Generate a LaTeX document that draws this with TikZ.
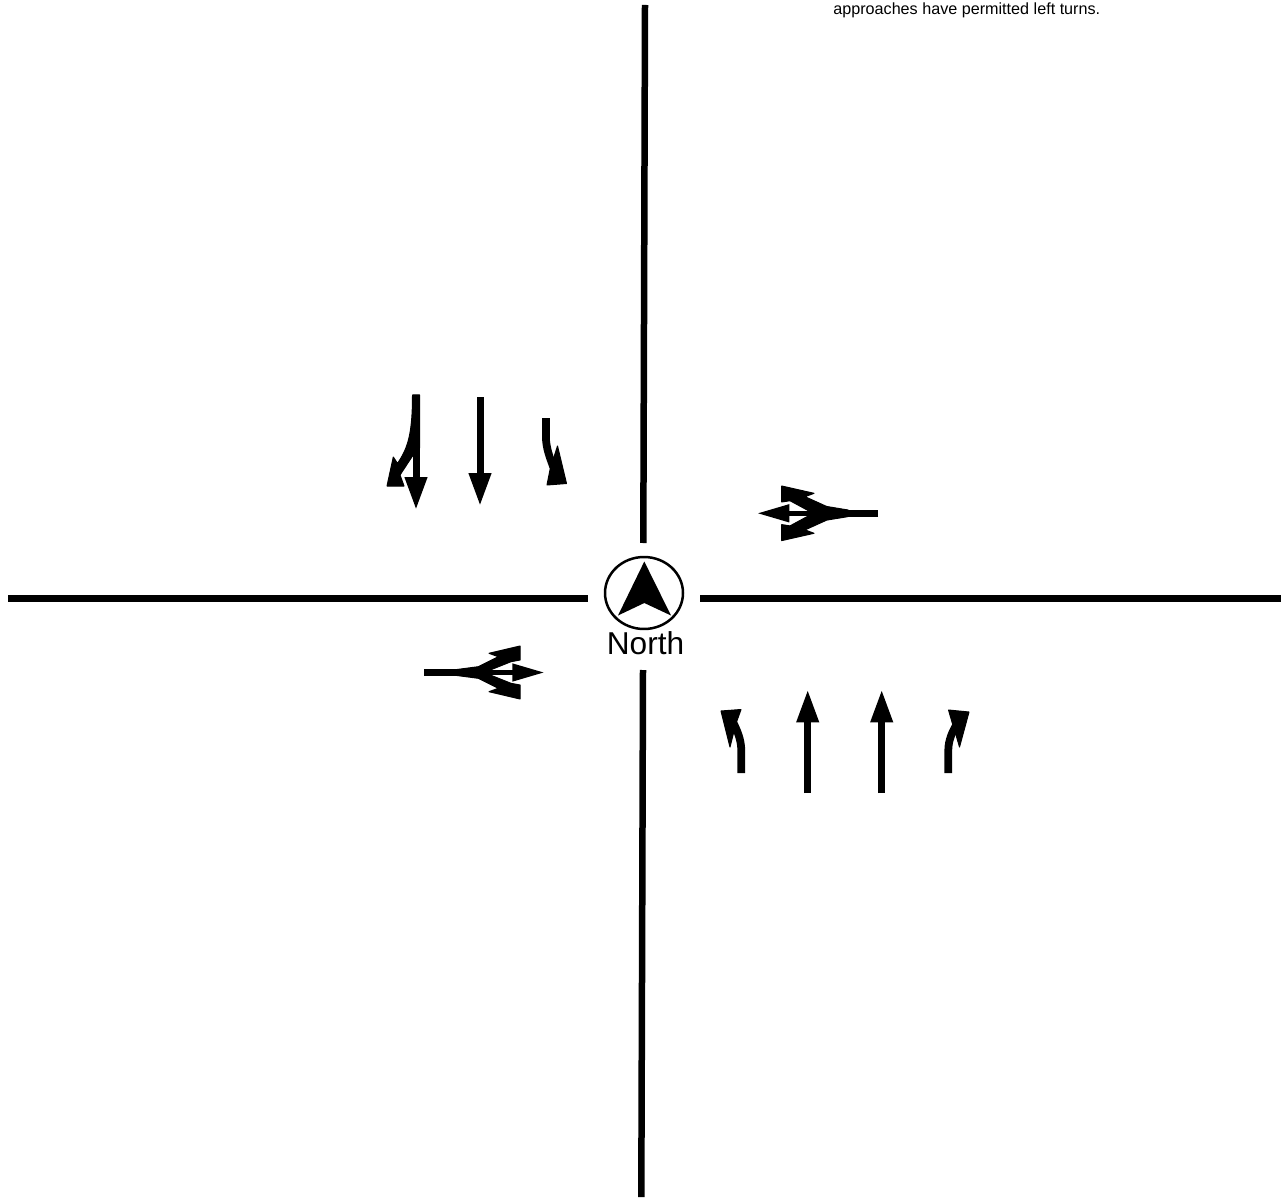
\documentclass[tikz,border=0pt]{standalone}
\usepackage{fontspec}
\setmainfont{Liberation Sans}
\usepackage{tikz}
\usetikzlibrary{shapes.geometric, arrows.meta, positioning, calc}
\tikzset{
    road/.style={line width=0.13cm, black},
    lane/.style={line width=0.14cm, black},
    lane_turn/.style={line width=0.155cm, black},
    lane_through/.style={lane, -{Triangle[length=0.66cm, width=0.42cm]}},
    lane_straight/.style={line width=0.09cm, black, -{Triangle[length=0.64cm, width=0.34cm]}},
    lane_head/.style={fill=black, draw=black, line width=0.02cm, line join=round},
    compass_ring/.style={ellipse, draw, line width=0.05cm, minimum width=1.56cm, minimum height=1.44cm, inner sep=0pt},
    compass_text/.style={font=\fontsize{18}{20}\selectfont, inner sep=0pt},
    note_text/.style={font=\fontsize{9.2}{11}\selectfont, inner sep=0pt, anchor=base west}
}
\begin{document}
\begin{tikzpicture}[x=0.02cm, y=-0.02cm]
	\useasboundingbox (0,0) rectangle (1281,1199);

	% Note
	\node (note) [note_text] at (833,15) {approaches have permitted left turns.};

	% Compass
	\node (compass) [compass_ring] at (644,593) {};
	\node (north) [compass_text, anchor=base] at (645.5,654) {North};
	\coordinate (needle_tip) at (644.3,561.5);
	\coordinate (needle_left) at (618,615.5);
	\coordinate (needle_notch) at (644.3,603);
	\coordinate (needle_right) at (671,615.5);
	\fill (needle_tip) -- (needle_left) -- (needle_notch) -- (needle_right) -- cycle;

	% Roads
	\coordinate (n_top) at (645,5);
	\coordinate (n_end) at (643.3,543);
	\coordinate (s_end) at (643,670);
	\coordinate (s_bot) at (641.3,1197);
	\coordinate (w_top) at (8,598.7);
	\coordinate (w_end) at (588,598.7);
	\coordinate (e_end) at (700,598.7);
	\coordinate (e_top) at (1281,598.7);
	\draw [road] (n_top) -- (n_end);
	\draw [road] (s_end) -- (s_bot);
	\draw [road] (w_top) -- (w_end);
	\draw [road] (e_end) -- (e_top);

	% Top lanes
	\draw [lane_through] (416,395) -- (416,510);
	\filldraw [lane_head] (387,486) -- (393.3,457) -- (397.5,463.5) .. controls (407,449) and (412.5,437) .. (412.5,395) -- (419.5,395) -- (419.5,448) -- (412,456.7) -- (400,475) -- (404,486) -- cycle;
	\draw [lane_through] (480,397) -- (480,506);
	\draw [lane_turn] (546,418) -- (546,440) .. controls (547,452) and (551,460) .. (555,472);
	\filldraw [lane_head] (547,485) -- (550,470) -- (557.5,446) -- (566.5,483.5) -- cycle;

	% Bottom lanes
	\draw [lane_turn] (741.3,773) -- (741.3,750) .. controls (741,740) and (738,732) .. (733,722);
	\filldraw [lane_head] (721,711) -- (741,709.5) -- (736.5,722) -- (733,735) -- (730,747) -- cycle;
	\draw [lane_through] (807.7,793) -- (807.7,689.5);
	\draw [lane_through] (881.7,793) -- (881.7,689.5);
	\draw [lane_turn] (948.3,773) -- (948.3,750) .. controls (948.5,740) and (952,732) .. (958,722);
	\filldraw [lane_head] (948.5,710) -- (969,712) -- (959.5,747) -- (956,735) -- (952,722) -- cycle;

	% Right lanes
	\draw [lane, line cap=butt] (878,513.3) -- (840,513.3);
	\draw [lane_straight] (850,513.3) -- (757.3,513.3);
	\filldraw [lane_head] (781.7,486) -- (814,493.3) -- (805,496.7) -- (826.7,506.5) -- (848,510) -- (848,513.3) -- (809,511) -- (790,500.7) -- (781.7,502) -- cycle;
	\filldraw [lane_head] (781.7,540.6) -- (814,533.3) -- (805,529.9) -- (826.7,520.1) -- (848,516.6) -- (848,513.3) -- (809,515.6) -- (790,525.9) -- (781.7,524.6) -- cycle;

	% Left lanes
	\draw [lane, line cap=butt] (424.3,672.5) -- (465,672.5);
	\draw [lane_straight] (455,672.5) -- (544.3,672.5);
	\filldraw [lane_head] (520,646) -- (489,653.3) -- (498.3,656.7) -- (478.3,666.7) -- (457,669.5) -- (457,672.5) -- (489,670.5) -- (511,661.7) -- (520,660) -- cycle;
	\filldraw [lane_head] (520,699) -- (489,691.7) -- (498.3,688.3) -- (478.3,678.3) -- (457,675.5) -- (457,672.5) -- (489,674.5) -- (511,683.3) -- (520,685) -- cycle;
\end{tikzpicture}
\end{document}
